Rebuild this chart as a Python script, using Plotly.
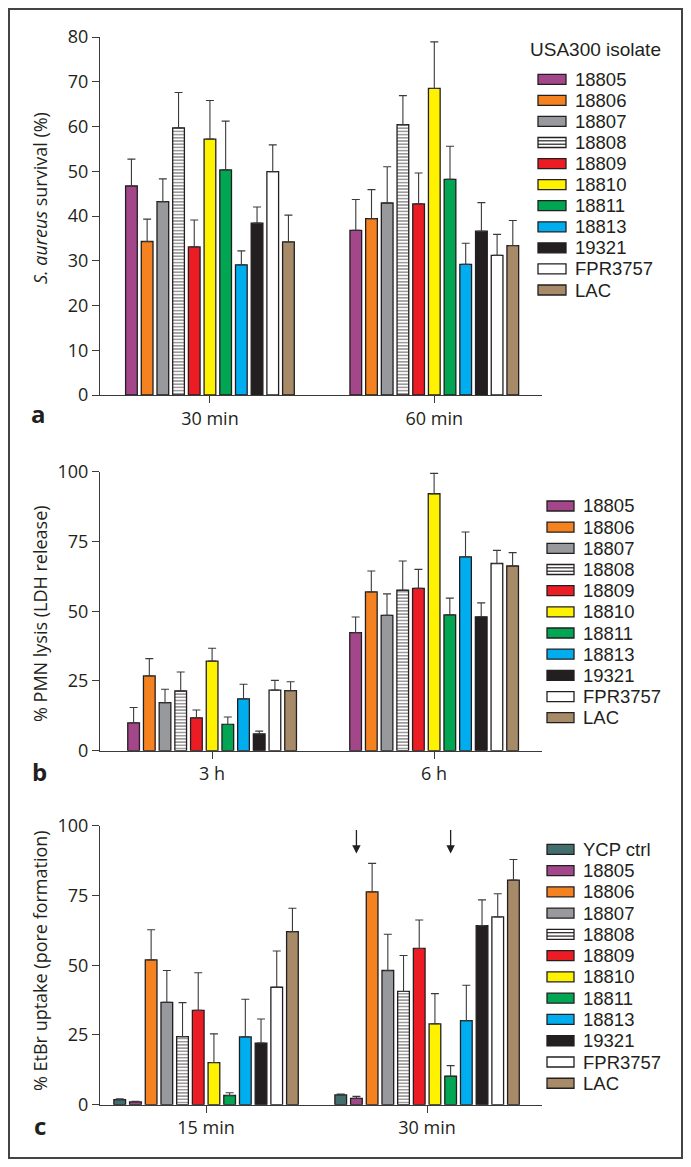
import plotly.graph_objects as go

# The page body adds an 8 px margin, so the figure is sized to fit inside the window.
OFF = 8
W, H = 691 - 2 * OFF, 1167 - 2 * OFF
FONT = "Open Sans"
LEG_FONT = "Liberation Sans"
INK = "#231F20"

# ---------------- data ----------------
strains = ["18805", "18806", "18807", "18808", "18809", "18810",
           "18811", "18813", "19321", "FPR3757", "LAC"]
strains_c = ["YCP ctrl"] + strains

a_times = ["30 min", "60 min"]
a_mean_30 = [46.7, 34.3, 43.2, 59.7, 33.1, 57.2, 50.3, 29.1, 38.4, 49.9, 34.2]
a_err_30 = [6.0, 5.0, 5.1, 7.9, 6.0, 8.6, 10.9, 3.1, 3.6, 6.0, 6.0]
a_mean_60 = [36.8, 39.4, 42.9, 60.4, 42.7, 68.5, 48.2, 29.2, 36.6, 31.2, 33.4]
a_err_60 = [6.9, 6.5, 8.1, 6.5, 6.9, 10.4, 7.4, 4.7, 6.4, 4.7, 5.6]

b_times = ["3 h", "6 h"]
b_mean_3 = [10.0, 26.8, 17.2, 21.4, 11.8, 32.1, 9.4, 18.6, 6.0, 21.7, 21.5]
b_err_3 = [5.5, 6.2, 4.8, 6.8, 2.8, 4.6, 2.7, 5.2, 1.0, 3.5, 3.2]
b_mean_6 = [42.3, 56.9, 48.5, 57.5, 58.2, 92.1, 48.7, 69.5, 48.0, 67.1, 66.2]
b_err_6 = [5.6, 7.5, 7.7, 10.5, 6.8, 7.3, 6.0, 8.9, 5.0, 4.7, 4.8]

c_times = ["15 min", "30 min"]
c_mean_15 = [1.8, 1.0, 51.9, 36.7, 24.4, 33.8, 15.1, 3.3, 24.3, 22.1, 42.1, 62.0]
c_err_15 = [0.3, 0.2, 10.8, 11.4, 12.2, 13.5, 10.3, 1.0, 13.5, 8.6, 13.0, 8.4]
c_mean_30 = [3.5, 2.3, 76.3, 48.1, 40.6, 56.0, 29.0, 10.2, 30.1, 64.2, 67.3, 80.5]
c_err_30 = [0.3, 0.7, 10.2, 13.0, 12.9, 10.2, 10.8, 3.8, 12.7, 9.2, 8.3, 7.4]
c_arrow_strains = ["18805", "18811"]

colors = {
    "YCP ctrl": "#426E6D", "18805": "#A4478A", "18806": "#F58220",
    "18807": "#97999C", "18808": "#FFFFFF", "18809": "#EC1C24",
    "18810": "#FFF200", "18811": "#00A651", "18813": "#00AEEF",
    "19321": "#231F20", "FPR3757": "#FFFFFF", "LAC": "#A78A67",
}

# ---------------- layout helpers (window pixels -> paper fractions) ----------------
def px(x):
    return (x - OFF) / W

def py(y):
    return 1 - (y - OFF) / H

X0, X1 = 100, 542
panels = [
    dict(ax="x", ay="y", top=37, bot=395, yr=[0, 80], dt=10, xr=[-0.49, 1.48],
         times=a_times, names=strains, means=[a_mean_30, a_mean_60], errs=[a_err_30, a_err_60]),
    dict(ax="x2", ay="y2", top=471.7, bot=750.7, yr=[0, 100], dt=25, xr=[-0.505, 1.486],
         times=b_times, names=strains, means=[b_mean_3, b_mean_6], errs=[b_err_3, b_err_6]),
    dict(ax="x3", ay="y3", top=825.7, bot=1104.7, yr=[0, 100], dt=25, xr=[-0.48, 1.52],
         times=c_times, names=strains_c, means=[c_mean_15, c_mean_30], errs=[c_err_15, c_err_30]),
]

BAR_PX = 11.7
PITCH_PX = 15.7

fig = go.Figure()
layout = dict(
    template="none",
    width=W, height=H, autosize=False,
    margin=dict(l=0, r=0, t=0, b=0, pad=0),
    paper_bgcolor="white", plot_bgcolor="white",
    showlegend=False, barmode="overlay",
    font=dict(family=FONT, size=18, color=INK),
)

for k, p in enumerate(panels):
    unit = (X1 - X0) / (p["xr"][1] - p["xr"][0])
    bw = BAR_PX / unit
    pitch = PITCH_PX / unit
    n = len(p["names"])
    p["pitch"] = pitch
    for i, name in enumerate(p["names"]):
        ys = [p["means"][0][i], p["means"][1][i]]
        es = [p["errs"][0][i], p["errs"][1][i]]
        marker = dict(color=colors[name], line=dict(color=INK, width=1.3))
        if name == "18808":
            marker["pattern"] = dict(shape="-", size=3.2, solidity=0.45,
                                     fgcolor=INK, bgcolor="white", fillmode="overlay")
        fig.add_trace(go.Bar(
            x=p["times"], y=ys, name=name,
            width=bw, offset=(i - (n - 1) / 2) * pitch - bw / 2,
            marker=marker,
            error_y=dict(type="data", symmetric=False, array=es, arrayminus=[0, 0],
                         color="#3a3a3a", thickness=1.1, width=4),
            xaxis=p["ax"], yaxis=p["ay"], showlegend=False,
        ))
    sx = "xaxis" if k == 0 else f"xaxis{k+1}"
    sy = "yaxis" if k == 0 else f"yaxis{k+1}"
    layout[sx] = dict(domain=[px(X0), px(X1)], anchor=p["ay"], type="category",
                      range=p["xr"], showline=True, linecolor="#3a3a3a", linewidth=1.2,
                      ticks="outside", ticklen=7, tickwidth=1, tickcolor="#3a3a3a",
                      showgrid=False, zeroline=False, automargin=False,
                      tickfont=dict(size=18, color=INK))
    layout[sy] = dict(domain=[py(p["bot"]), py(p["top"])], anchor=p["ax"],
                      range=p["yr"], dtick=p["dt"], tick0=0,
                      showline=True, linecolor="#3a3a3a", linewidth=1.2,
                      ticks="outside", ticklen=7, tickwidth=1, tickcolor="#3a3a3a",
                      showgrid=False, zeroline=False, automargin=False,
                      tickfont=dict(size=18, color=INK))

annotations = []
shapes = []

# y-axis titles
ytitles = [("<i>S. aureus</i> survival (%)", 198),
           ("% PMN lysis (LDH release)", 614),
           ("% EtBr uptake (pore formation)", 961)]
for t, yc in ytitles:
    annotations.append(dict(text=t, x=px(40), y=py(yc), xref="paper", yref="paper",
                            textangle=-90, showarrow=False, xanchor="center", yanchor="middle",
                            font=dict(size=18, color=INK)))

# panel letters
for t, (xc, yc) in zip(["a", "b", "c"], [(38, 414), (39, 771), (40, 1125)]):
    annotations.append(dict(text=f"<b>{t}</b>", x=px(xc), y=py(yc), xref="paper", yref="paper",
                            showarrow=False, xanchor="center", yanchor="middle",
                            font=dict(size=24, color=INK)))

# arrows in panel c (30 min group)
pc = panels[2]
for s in c_arrow_strains:
    i = strains_c.index(s)
    annotations.append(dict(x=1 + (i - (len(strains_c) - 1) / 2) * pc["pitch"], y=90,
                            xref="x3", yref="y3", ax=0, ay=-25, text="", showarrow=True,
                            arrowhead=2, arrowsize=1.3, arrowwidth=1.3, arrowcolor=INK))

# legends (drawn manually)
legend_specs = [
    dict(names=strains, rx0=538, rx1=566, tx=574, y0=79.3, step=21.07),
    dict(names=strains, rx0=547, rx1=574, tx=582, y0=506, step=21.17),
    dict(names=strains_c, rx0=547, rx1=574, tx=582, y0=849.3, step=21.27),
]
annotations.append(dict(text="USA300 isolate", x=px(528), y=py(49), xref="paper", yref="paper",
                        showarrow=False, xanchor="left", yanchor="middle",
                        font=dict(family=LEG_FONT, size=19, color=INK)))
for spec in legend_specs:
    for j, name in enumerate(spec["names"]):
        yc = spec["y0"] + j * spec["step"]
        shapes.append(dict(type="rect", xref="paper", yref="paper",
                           x0=px(spec["rx0"]), x1=px(spec["rx1"]),
                           y0=py(yc + 5), y1=py(yc - 5),
                           fillcolor=colors[name], line=dict(color=INK, width=1.3)))
        if name == "18808":
            for dy in (-1.7, 1.7):
                shapes.append(dict(type="line", xref="paper", yref="paper",
                                   x0=px(spec["rx0"]), x1=px(spec["rx1"]),
                                   y0=py(yc + dy), y1=py(yc + dy),
                                   line=dict(color=INK, width=1.2)))
        annotations.append(dict(text=name, x=px(spec["tx"]), y=py(yc), xref="paper", yref="paper",
                                showarrow=False, xanchor="left", yanchor="middle", borderpad=0,
                                font=dict(family=LEG_FONT, size=18.5, color=INK)))

# outer frame (at the figure edges)
shapes.append(dict(type="rect", xref="paper", yref="paper",
                   x0=1 / W, x1=1 - 1 / W, y0=1 / H, y1=1 - 1 / H,
                   line=dict(color="#444444", width=2), fillcolor="rgba(0,0,0,0)"))

layout["annotations"] = annotations
layout["shapes"] = shapes
fig.update_layout(**layout)

fig.write_html("out.html")
